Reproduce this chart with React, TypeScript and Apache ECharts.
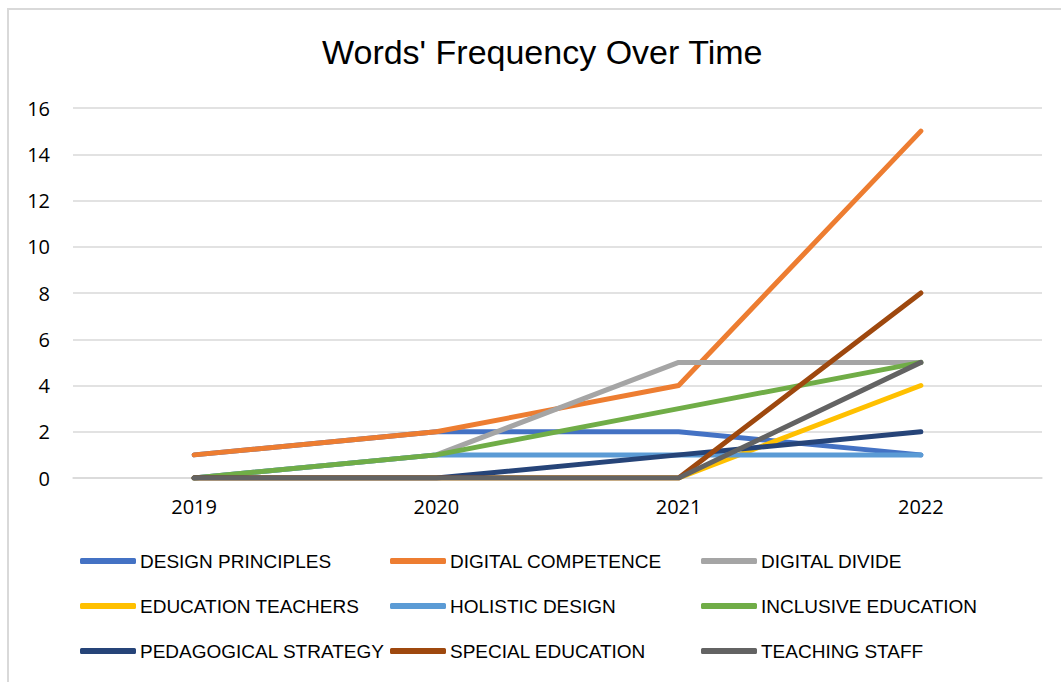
import React, { useEffect, useRef } from "react";
import * as echarts from "echarts";

const years = ["2019", "2020", "2021", "2022"];
const seriesNames = [
  "DESIGN PRINCIPLES",
  "DIGITAL COMPETENCE",
  "DIGITAL DIVIDE",
  "EDUCATION TEACHERS",
  "HOLISTIC DESIGN",
  "INCLUSIVE EDUCATION",
  "PEDAGOGICAL STRATEGY",
  "SPECIAL EDUCATION",
  "TEACHING STAFF",
];
const designPrinciples = [1, 2, 2, 1];
const digitalCompetence = [1, 2, 4, 15];
const digitalDivide = [0, 1, 5, 5];
const educationTeachers = [0, 0, 0, 4];
const holisticDesign = [0, 1, 1, 1];
const inclusiveEducation = [0, 1, 3, 5];
const pedagogicalStrategy = [0, 0, 1, 2];
const specialEducation = [0, 0, 0, 8];
const teachingStaff = [0, 0, 0, 5];
const seriesValues = [
  designPrinciples,
  digitalCompetence,
  digitalDivide,
  educationTeachers,
  holisticDesign,
  inclusiveEducation,
  pedagogicalStrategy,
  specialEducation,
  teachingStaff,
];
const colors = [
  "#4472C4",
  "#ED7D31",
  "#A5A5A5",
  "#FFC000",
  "#5B9BD5",
  "#70AD47",
  "#264478",
  "#9E480E",
  "#636363",
];

const textFont = "'Liberation Sans', sans-serif";
const tickFont = "'Open Sans', 'Liberation Sans', sans-serif";

export default function App() {
  const ref = useRef<HTMLDivElement>(null);
  useEffect(() => {
    if (!ref.current) return;
    const chart = echarts.init(ref.current, undefined, { renderer: "svg" });
    const legendCol = (idx: number[], left: number) => ({
      orient: "vertical",
      left,
      top: 548.5,
      itemWidth: 56,
      itemHeight: 6,
      itemGap: 20,
      icon: "roundRect",
      data: idx.map((i) => seriesNames[i]),
      textStyle: {
        fontFamily: textFont,
        fontSize: 19,
        color: "#000",
        lineHeight: 25,
        padding: [0, 0, 0, -1],
      },
      padding: 0,
    });
    chart.setOption({
      animation: false,
      color: colors,
      title: {
        text: "Words' Frequency Over Time",
        left: 322,
        top: 35,
        padding: 0,
        textStyle: {
          fontFamily: textFont,
          fontSize: 34,
          fontWeight: "normal",
          color: "#000",
        },
      },
      graphic: [
        {
          type: "rect",
          shape: { x: 8, y: 9, width: 1100, height: 700 },
          style: { fill: "none", stroke: "#D9D9D9", lineWidth: 2 },
          silent: true,
        },
      ],
      legend: [
        legendCol([0, 3, 6], 80),
        legendCol([1, 4, 7], 390),
        legendCol([2, 5, 8], 701),
      ],
      grid: { left: 73, right: 19, top: 108, bottom: 204 },
      xAxis: {
        type: "category",
        data: years,
        boundaryGap: true,
        axisLine: { lineStyle: { color: "#D9D9D9", width: 1.5 } },
        axisTick: { show: false },
        axisLabel: {
          fontFamily: tickFont,
          fontSize: 20,
          color: "#000",
          margin: 18,
        },
      },
      yAxis: {
        type: "value",
        min: 0,
        max: 16,
        interval: 2,
        axisLine: { show: false },
        axisTick: { show: false },
        splitLine: { lineStyle: { color: "#D9D9D9", width: 1.5 } },
        axisLabel: {
          fontFamily: tickFont,
          fontSize: 20,
          color: "#000",
          margin: 23,
        },
      },
      series: seriesNames.map((name, i) => ({
        name,
        type: "line",
        data: seriesValues[i],
        symbol: "none",
        lineStyle: { width: 5, color: colors[i], cap: "round", join: "round" },
        itemStyle: { color: colors[i] },
      })),
    });
    return () => chart.dispose();
  }, []);
  return (
    <div
      ref={ref}
      style={{ position: "fixed", left: 0, top: 0, width: 1061, height: 682, background: "#fff" }}
    />
  );
}
